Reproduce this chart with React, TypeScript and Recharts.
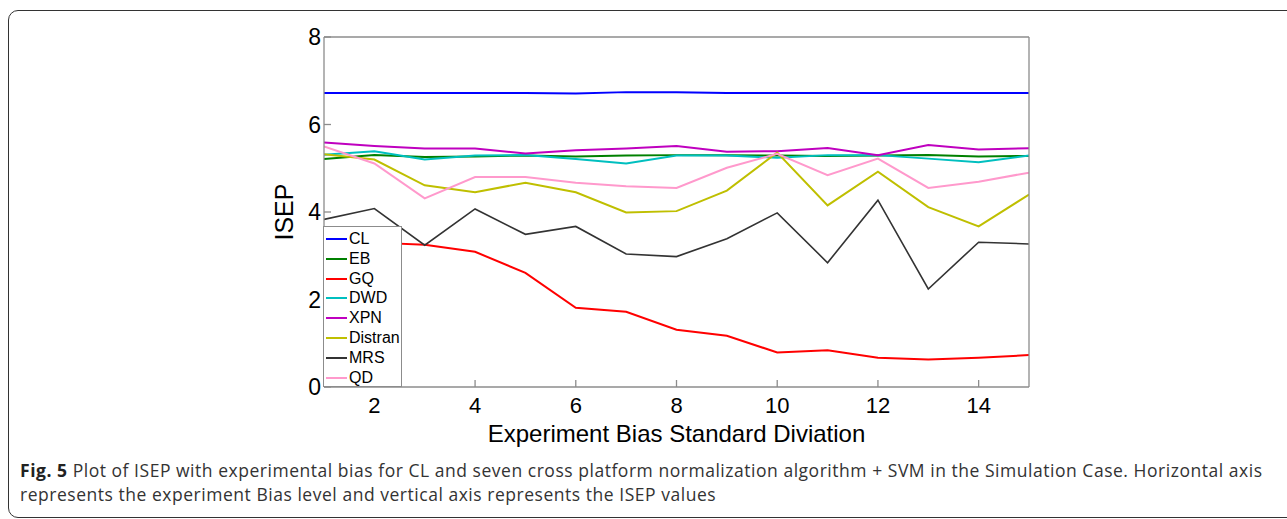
import React from 'react'
import { LineChart, Line, XAxis, YAxis, Legend } from 'recharts'

// experiment bias levels (x axis)
const biasLevels = [1, 2, 3, 4, 5, 6, 7, 8, 9, 10, 11, 12, 13, 14, 15]
const xTicks = [2, 4, 6, 8, 10, 12, 14]
const yTicks = [0, 2, 4, 6, 8]

// ISEP values per method
const clValues = [6.72, 6.72, 6.72, 6.72, 6.72, 6.71, 6.74, 6.74, 6.72, 6.72, 6.72, 6.72, 6.72, 6.72, 6.72]
const ebValues = [5.21, 5.3, 5.26, 5.27, 5.29, 5.27, 5.29, 5.3, 5.3, 5.29, 5.28, 5.29, 5.3, 5.27, 5.28]
const gqValues = [3.38, 3.3, 3.25, 3.09, 2.61, 1.81, 1.72, 1.31, 1.17, 0.79, 0.84, 0.67, 0.63, 0.67, 0.73]
const dwdValues = [5.31, 5.39, 5.2, 5.29, 5.3, 5.21, 5.11, 5.29, 5.29, 5.24, 5.3, 5.3, 5.22, 5.14, 5.29]
const xpnValues = [5.59, 5.51, 5.45, 5.45, 5.34, 5.41, 5.45, 5.51, 5.38, 5.39, 5.46, 5.3, 5.53, 5.43, 5.46]
const distranValues = [5.32, 5.2, 4.61, 4.45, 4.67, 4.45, 3.99, 4.02, 4.49, 5.36, 4.15, 4.92, 4.11, 3.67, 4.4]
const mrsValues = [3.83, 4.08, 3.24, 4.07, 3.49, 3.67, 3.04, 2.98, 3.39, 3.98, 2.84, 4.27, 2.24, 3.31, 3.27]
const qdValues = [5.5, 5.11, 4.31, 4.8, 4.8, 4.67, 4.59, 4.55, 5.01, 5.33, 4.84, 5.22, 4.55, 4.69, 4.9]

const series = [
  { key: 'CL', values: clValues, color: '#0000ff', width: 2 },
  { key: 'EB', values: ebValues, color: '#008000', width: 2 },
  { key: 'GQ', values: gqValues, color: '#ff0000', width: 2 },
  { key: 'DWD', values: dwdValues, color: '#00bfbf', width: 2 },
  { key: 'XPN', values: xpnValues, color: '#bf00bf', width: 2 },
  { key: 'Distran', values: distranValues, color: '#bfbf00', width: 2 },
  { key: 'MRS', values: mrsValues, color: '#333333', width: 1.6 },
  { key: 'QD', values: qdValues, color: '#ff99cc', width: 2 },
]

const data = biasLevels.map((x, i) => {
  const row: Record<string, number> = { x }
  series.forEach((s) => {
    row[s.key] = s.values[i]
  })
  return row
})

const AXIS = '#8c8c8c'
const FONT = 'Arial, "Liberation Sans", sans-serif'

function YTitle({ viewBox }: any) {
  if (!viewBox) return null
  const cx = viewBox.x + 29
  const cy = viewBox.y + viewBox.height / 2
  return (
    <text
      x={cx}
      y={cy}
      transform={`rotate(-90 ${cx} ${cy})`}
      textAnchor="middle"
      fontSize={25}
      fontFamily={FONT}
      fill="#000"
    >
      ISEP
    </text>
  )
}

function XTitle({ viewBox }: any) {
  if (!viewBox) return null
  return (
    <text
      x={viewBox.x + viewBox.width / 2}
      y={viewBox.y + 55}
      textAnchor="middle"
      fontSize={24}
      fontFamily={FONT}
      fill="#000"
    >
      Experiment Bias Standard Diviation
    </text>
  )
}

function LegendBox() {
  return (
    <div
      style={{
        width: 79,
        height: 161,
        boxSizing: 'border-box',
        background: '#fff',
        border: `1px solid ${AXIS}`,
        paddingTop: 2,
        fontFamily: FONT,
        fontSize: 16,
      }}
    >
      {series.map((s) => (
        <div key={s.key} style={{ display: 'flex', alignItems: 'center', height: 19.85 }}>
          <span
            style={{
              display: 'inline-block',
              width: 21,
              height: 2,
              marginLeft: 2,
              marginRight: 2,
              background: s.color,
            }}
          />
          <span style={{ color: '#000', lineHeight: '16px' }}>{s.key}</span>
        </div>
      ))}
    </div>
  )
}

export default function App() {
  return (
    <div
      style={{
        position: 'absolute',
        left: 0,
        top: 0,
        width: 1287,
        height: 519,
        overflow: 'hidden',
        background: '#fff',
      }}
    >
      <div
        style={{
          position: 'absolute',
          left: 8,
          top: 10,
          width: 1320,
          height: 508,
          boxSizing: 'border-box',
          border: '1.5px solid #333',
          borderRadius: 10,
        }}
      />
      <div style={{ position: 'absolute', left: 0, top: 0 }}>
        <LineChart
          width={1287}
          height={519}
          data={data}
          margin={{ top: 36, right: 257, bottom: 92, left: 264 }}
        >
          <XAxis
            dataKey="x"
            type="number"
            domain={[1, 15]}
            ticks={xTicks}
            allowDataOverflow
            height={40}
            stroke={AXIS}
            strokeWidth={1.3}
            tickSize={-7}
            tickMargin={17}
            tick={{ fontSize: 22, fontFamily: FONT, fill: '#000' }}
            label={<XTitle />}
          />
          <XAxis
            xAxisId="top"
            orientation="top"
            type="number"
            domain={[1, 15]}
            ticks={xTicks}
            allowDataOverflow
            height={1}
            stroke={AXIS}
            strokeWidth={1.3}
            tickSize={-7}
            tick={false}
          />
          <YAxis
            type="number"
            domain={[0, 8]}
            ticks={yTicks}
            allowDataOverflow
            width={60}
            stroke={AXIS}
            strokeWidth={1.3}
            tickSize={-7}
            tickMargin={10}
            tick={{ fontSize: 23, fontFamily: FONT, fill: '#000' }}
            label={<YTitle />}
          />
          <YAxis
            yAxisId="right"
            orientation="right"
            type="number"
            domain={[0, 8]}
            ticks={yTicks}
            allowDataOverflow
            width={1}
            stroke={AXIS}
            strokeWidth={1.3}
            tickSize={-7}
            tick={false}
          />
          {series.map((s) => (
            <Line
              key={s.key}
              dataKey={s.key}
              stroke={s.color}
              strokeWidth={s.width}
              dot={false}
              activeDot={false}
              isAnimationActive={false}
            />
          ))}
          <Legend
            layout="vertical"
            align="center"
            verticalAlign="middle"
            content={<LegendBox />}
            wrapperStyle={{ position: 'absolute', left: 323, top: 226, width: 79, height: 161 }}
          />
        </LineChart>
      </div>
      <div
        style={{
          position: 'absolute',
          left: 20,
          top: 458,
          whiteSpace: 'nowrap',
          fontFamily: '"Open Sans", sans-serif',
          fontSize: 17.5,
          letterSpacing: 0.53,
          lineHeight: '24px',
          color: '#333',
        }}
      >
        <b style={{ color: '#222' }}>Fig. 5</b> Plot of ISEP with experimental bias for CL and seven cross platform
        normalization algorithm + SVM in the Simulation Case. Horizontal axis
        <br />
        represents the experiment Bias level and vertical axis represents the ISEP values
      </div>
    </div>
  )
}
